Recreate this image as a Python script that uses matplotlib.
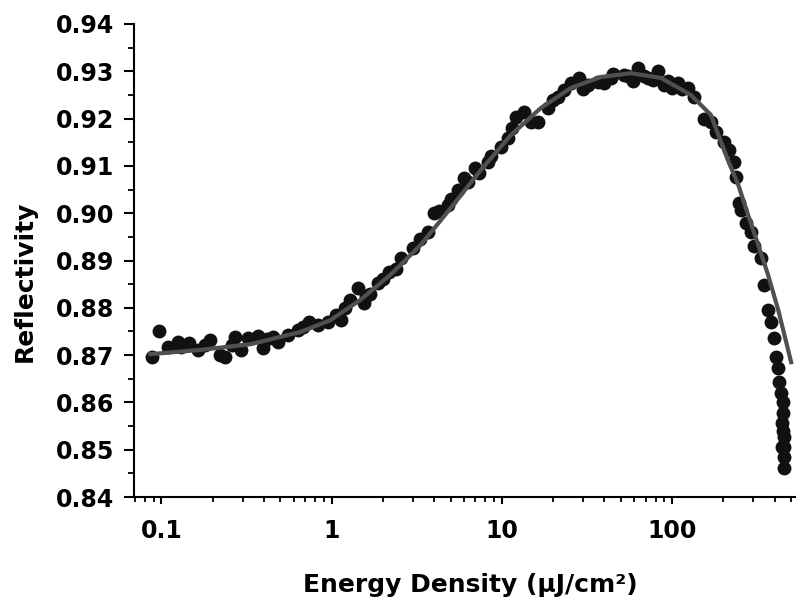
import matplotlib.pyplot as plt
from matplotlib.ticker import FixedLocator, MultipleLocator, NullFormatter

plt.rcParams['font.family'] = ['DejaVu Sans']

# measured points (energy density in uJ/cm^2, reflectivity)
energy = [0.0885, 0.0973, 0.110, 0.126, 0.146, 0.163, 0.194, 0.222, 0.238, 0.272,
          0.292, 0.321, 0.367, 0.393, 0.420, 0.481, 0.551, 0.631, 0.733, 0.827,
          0.947, 1.06, 1.13, 1.29, 1.42, 1.54, 1.69, 1.87, 2.16, 2.55,
          2.99, 3.67, 3.98, 4.81, 5.51, 6.31, 7.33, 8.27, 8.61, 9.86,
          10.8, 12.1, 13.5, 14.8, 16.3, 18.7, 21.3, 23.2, 25.5, 28.4,
          32.1, 36.7, 43.8, 52.2, 59.0, 63.1, 72.3, 82.7, 94.7, 108,
          124, 135, 154, 169, 181, 202, 216, 232, 238, 248,
          255, 272, 292, 304, 334, 348, 367, 382, 398, 409,
          421, 426, 438, 450, 450, 445, 456, 456, 445, 456,
          456, 450]
reflect = [0.8696, 0.8750, 0.8717, 0.8728, 0.8726, 0.8710, 0.8732, 0.8700, 0.8696, 0.8738,
           0.8710, 0.8736, 0.8740, 0.8715, 0.8735, 0.8728, 0.8743, 0.8754, 0.8770, 0.8764,
           0.8770, 0.8785, 0.8774, 0.8817, 0.8842, 0.8810, 0.8830, 0.8852, 0.8876, 0.8905,
           0.8927, 0.8960, 0.9000, 0.9017, 0.9049, 0.9066, 0.9085, 0.9108, 0.9120, 0.9140,
           0.9160, 0.9203, 0.9214, 0.9193, 0.9193, 0.9222, 0.9246, 0.9260, 0.9275, 0.9286,
           0.9270, 0.9278, 0.9286, 0.9292, 0.9280, 0.9307, 0.9286, 0.9300, 0.9280, 0.9275,
           0.9265, 0.9246, 0.9200, 0.9193, 0.9172, 0.9150, 0.9134, 0.9108, 0.9077, 0.9022,
           0.9007, 0.8980, 0.8960, 0.8930, 0.8905, 0.8848, 0.8795, 0.8770, 0.8736, 0.8696,
           0.8673, 0.8643, 0.8620, 0.8600, 0.8578, 0.8557, 0.8527, 0.8506, 0.8506, 0.8485,
           0.8461, 0.8540]
# extra points filling the dense stretches
energy += [0.13, 0.18, 0.26, 0.45, 0.68, 1.2, 1.6, 2.0, 2.4, 3.3,
           4.3, 5.0, 6.0, 7.0, 11.5, 20, 30, 40, 45, 55,
           68, 77, 90, 100, 115]
reflect += [0.8718, 0.8722, 0.8722, 0.8738, 0.8760, 0.8800, 0.8825, 0.8860, 0.8882, 0.8945,
            0.9005, 0.9030, 0.9075, 0.9095, 0.9180, 0.9240, 0.9262, 0.9275, 0.9295, 0.9290,
            0.9290, 0.9282, 0.9270, 0.9265, 0.9262]

# fitted curve
fit_energy = [0.0861, 0.169, 0.334, 0.657, 0.986, 1.48, 2.22, 3.34, 5.01, 7.52,
              11.3, 16.9, 25.5, 38.2, 57.4, 86.1, 129, 169, 213, 245,
              280, 321, 367, 421, 501]
fit_reflect = [0.8702, 0.8711, 0.8723, 0.8749, 0.8774, 0.8817, 0.8870, 0.8933, 0.9011, 0.9091,
               0.9165, 0.9222, 0.9265, 0.9288, 0.9296, 0.9286, 0.9250, 0.9208, 0.9112, 0.9060,
               0.8996, 0.8933, 0.8869, 0.8795, 0.8685]

y_ticks = [0.84, 0.85, 0.86, 0.87, 0.88, 0.89, 0.90, 0.91, 0.92, 0.93, 0.94]
x_ticks = [0.1, 1, 10, 100]
x_labels = ["0.1", "1", "10", "100"]

fig = plt.figure(figsize=(7.96, 5.97), dpi=100)
ax = fig.add_axes([0.1683, 0.1675, 0.8317, 0.7923])

ax.plot(energy, reflect, "o", color="#111111", markersize=10, markeredgewidth=0)
ax.plot(fit_energy, fit_reflect, "-", color="#505050", linewidth=3)

ax.set_xscale("log")
ax.set_xlim(0.069, 535)
ax.set_ylim(0.84, 0.94)

ax.xaxis.set_major_locator(FixedLocator(x_ticks))
ax.set_xticklabels(x_labels)
minor = [m * 10.0 ** d for d in range(-2, 3) for m in range(2, 10)]
ax.xaxis.set_minor_locator(FixedLocator(minor))
ax.xaxis.set_minor_formatter(NullFormatter())

ax.set_yticks(y_ticks)
ax.set_yticklabels([f"{v:.2f}" for v in y_ticks])
ax.yaxis.set_minor_locator(MultipleLocator(0.005))

for s in ["top", "right"]:
    ax.spines[s].set_visible(False)
for s in ["left", "bottom"]:
    ax.spines[s].set_linewidth(1.5)

ax.tick_params(axis="x", which="major", direction="out", length=5, width=1.5, labelsize=17, pad=11)
ax.tick_params(axis="x", which="minor", direction="out", length=3.5, width=1.3)
ax.tick_params(axis="y", which="major", direction="out", length=7, width=1.5, labelsize=17, pad=7)
ax.tick_params(axis="y", which="minor", direction="out", length=4.5, width=1.3)
for lab in ax.get_xticklabels() + ax.get_yticklabels():
    lab.set_fontweight("bold")

ax.set_xlabel("Energy Density (\u03bcJ/cm\u00b2)", fontsize=18, fontweight="bold")
ax.xaxis.label.set_va("baseline")
ax.xaxis.set_label_coords(0.5076, -0.2008)
ax.set_ylabel("Reflectivity", fontsize=18, fontweight="bold")
ax.yaxis.set_label_coords(-0.1465, 0.457)

fig.savefig("out.png", dpi=100)
